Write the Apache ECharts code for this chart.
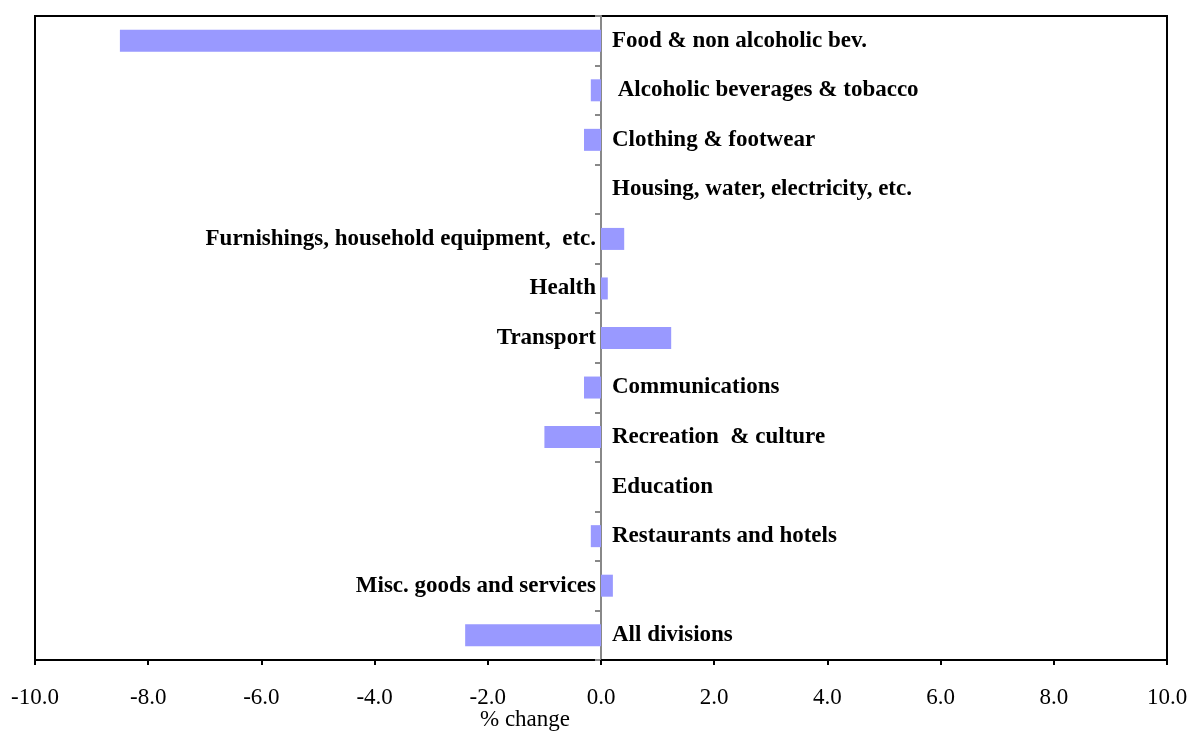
<!DOCTYPE html>
<html>
<head>
<meta charset="utf-8">
<script src="https://cdn.jsdelivr.net/npm/echarts@6/dist/echarts.min.js"></script>
<style>
  html, body { margin: 0; padding: 0; background: #fff; }
  #chart { width: 1189px; height: 731px; }
</style>
</head>
<body>
<div id="chart"></div>
<script>
// Variación % por división (barras horizontales)
const categorias = [
    'Food & non alcoholic bev.',
    ' Alcoholic beverages & tobacco',
    'Clothing & footwear',
    'Housing, water, electricity, etc.',
    'Furnishings, household equipment,  etc.',
    'Health',
    'Transport',
    'Communications',
    'Recreation  & culture',
    'Education',
    'Restaurants and hotels',
    'Misc. goods and services',
    'All divisions'
];
const valores = [-8.5, -0.18, -0.3, 0, 0.41, 0.12, 1.24, -0.3, -1.0, 0, -0.18, 0.21, -2.4];
const ticksX = [-10, -8, -6, -4, -2, 0, 2, 4, 6, 8, 10];

const fuente = '"Liberation Serif", "Times New Roman", serif';

const estiloEtiqueta = {
    show: true,
    color: '#000',
    fontFamily: fuente,
    fontWeight: 'bold',
    fontSize: 23
};

const dom = document.getElementById('chart');
const myChart = echarts.init(dom);

const option = {
    animation: false,
    grid: {
        left: 35,
        right: 22,
        top: 16,
        bottom: 71,
        containLabel: false,
        outerBoundsMode: 'none',
        show: true,
        borderColor: '#000',
        borderWidth: 2
    },
    xAxis: {
        type: 'value',
        min: ticksX[0],
        max: ticksX[ticksX.length - 1],
        interval: 2,
        axisLine: { show: true, lineStyle: { color: '#000', width: 2 } },
        axisTick: { show: true, length: 5, lineStyle: { color: '#000', width: 2 } },
        splitLine: { show: false },
        axisLabel: {
            margin: 26,
            color: '#000',
            fontFamily: fuente,
            fontSize: 23,
            formatter: v => v.toFixed(1)
        }
    },
    yAxis: {
        type: 'category',
        inverse: true,
        data: categorias,
        axisLine: { show: true, onZero: true, lineStyle: { color: '#888', width: 2 } },
        axisTick: { show: true, length: 6, lineStyle: { color: '#888', width: 2 } },
        axisLabel: { show: false }
    },
    series: [
        {
            name: '% change',
            type: 'bar',
            barWidth: 22,
            itemStyle: { color: '#9999ff' },
            label: Object.assign({}, estiloEtiqueta, {
                // positivos: nombre a la izquierda del cero
                position: 'left',
                distance: 5,
                formatter: p => (p.value > 0 ? p.name : '')
            }),
            data: valores
        },
        {
            // serie auxiliar en cero, solo para las etiquetas a la derecha
            name: 'etiquetas',
            type: 'bar',
            barWidth: 22,
            barGap: '-100%',
            silent: true,
            itemStyle: { color: 'rgba(0,0,0,0)' },
            label: Object.assign({}, estiloEtiqueta, {
                position: 'right',
                distance: 11,
                formatter: p => (valores[p.dataIndex] <= 0 ? p.name : '')
            }),
            data: valores.map(() => 0)
        }
    ],
    graphic: [
        {
            type: 'text',
            left: 480,
            top: 708,
            style: {
                text: '% change',
                fill: '#000',
                font: '23px ' + fuente
            }
        }
    ]
};

myChart.setOption(option);
</script>
</body>
</html>
